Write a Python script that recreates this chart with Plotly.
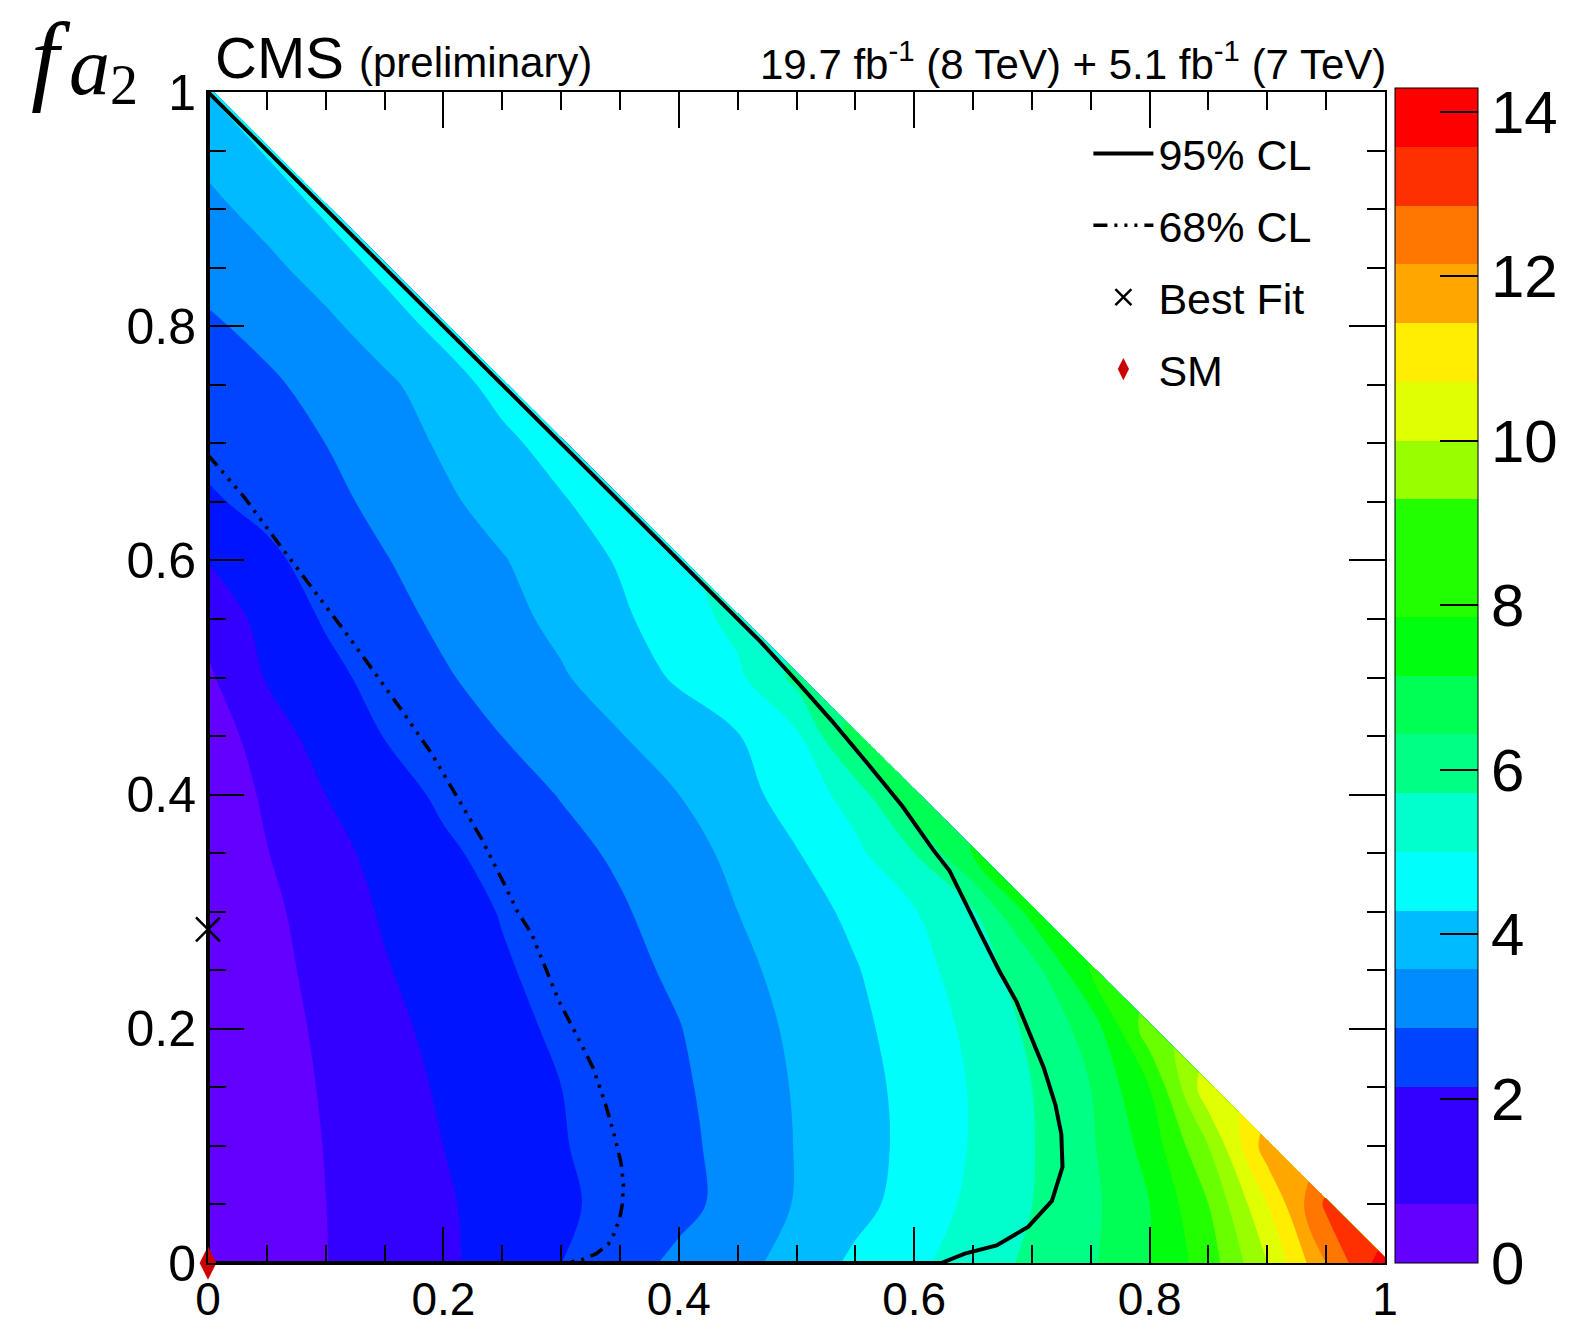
import plotly.graph_objects as go

# ---------------- data ----------------
# grid nodes (fa3 on x, fa2 on y); only x + y <= 1 is physical
x_nodes = [0.0, 0.05, 0.1, 0.15, 0.2, 0.25, 0.3, 0.35, 0.4, 0.45, 0.5,
           0.55, 0.6, 0.65, 0.7, 0.75, 0.8, 0.85, 0.9, 0.95, 1.0]
y_nodes = [0.0, 0.05, 0.1, 0.15, 0.2, 0.25, 0.3, 0.35, 0.4, 0.45, 0.5,
           0.55, 0.6, 0.65, 0.7, 0.75, 0.8, 0.85, 0.9, 0.95, 1.0]

# -2 Delta lnL estimated at each node, one list per row of y (bottom -> top)
row_00 = [0.35, 0.525, 0.70, 1.00, 1.31, 1.70, 2.14, 2.59, 3.00, 3.36, 3.84, 4.43, 4.85, 5.35, 5.86, 6.33, 7.14, 8.21, 10.0, 12.14, 14.0]
row_05 = [0.25, 0.48, 0.71, 1.02, 1.35, 1.68, 2.03, 2.35, 2.67, 3.08, 3.62, 4.06, 4.58, 5.16, 5.71, 6.26, 7.14, 8.57, 10.71, 13.0]
row_10 = [0.15, 0.44, 0.73, 1.08, 1.43, 1.76, 2.10, 2.40, 2.70, 3.09, 3.60, 4.01, 4.48, 5.06, 5.68, 6.33, 7.43, 9.29, 11.8]
row_15 = [0.08, 0.43, 0.77, 1.15, 1.51, 1.82, 2.14, 2.45, 2.75, 3.16, 3.63, 4.04, 4.50, 5.06, 5.71, 6.43, 7.86, 10.5]
row_20 = [0.03, 0.43, 0.84, 1.25, 1.61, 1.94, 2.26, 2.54, 2.83, 3.26, 3.70, 4.12, 4.60, 5.16, 5.86, 6.71, 9.0]
row_25 = [0.005, 0.48, 0.94, 1.38, 1.73, 2.07, 2.37, 2.66, 2.98, 3.40, 3.82, 4.24, 4.74, 5.36, 6.11, 7.9]
row_30 = [0.0, 0.55, 1.05, 1.50, 1.84, 2.18, 2.48, 2.78, 3.16, 3.57, 3.99, 4.44, 4.95, 5.64, 7.4]
row_35 = [0.02, 0.69, 1.20, 1.64, 2.03, 2.35, 2.65, 2.96, 3.32, 3.73, 4.25, 4.83, 5.71, 7.2]
row_40 = [0.08, 0.85, 1.43, 1.86, 2.26, 2.57, 2.89, 3.23, 3.57, 4.05, 4.58, 5.30, 7.0]
row_45 = [0.25, 1.11, 1.70, 2.16, 2.51, 2.86, 3.20, 3.54, 3.89, 4.25, 4.87, 6.8]
row_50 = [0.60, 1.48, 1.95, 2.38, 2.78, 3.14, 3.50, 3.93, 4.38, 4.86, 5.9]
row_55 = [0.90, 1.69, 2.21, 2.61, 3.00, 3.36, 3.74, 4.16, 4.67, 5.2]
row_60 = [1.45, 1.99, 2.43, 2.82, 3.18, 3.53, 3.92, 4.35, 4.9]
row_65 = [2.05, 2.34, 2.67, 3.04, 3.45, 3.83, 4.21, 4.7]
row_70 = [2.33, 2.60, 2.86, 3.25, 3.66, 4.11, 4.6]
row_75 = [2.55, 2.76, 3.05, 3.43, 3.94, 4.55]
row_80 = [2.77, 3.02, 3.41, 3.93, 4.5]
row_85 = [3.05, 3.40, 3.88, 4.45]
row_90 = [3.38, 3.83, 4.4]
row_95 = [3.78, 4.35]
row_100 = [4.3]

z_rows = [row_00, row_05, row_10, row_15, row_20, row_25, row_30, row_35,
          row_40, row_45, row_50, row_55, row_60, row_65, row_70, row_75,
          row_80, row_85, row_90, row_95, row_100]

# 95% CL contour (solid) and 68% CL contour (dash-dot)
cl95_x = [0.0, 0.47, 0.50, 0.53, 0.56, 0.59, 0.616, 0.63, 0.657, 0.672, 0.687, 0.71,
          0.72, 0.725, 0.726, 0.717, 0.697, 0.67, 0.643, 0.623, 0.0, 0.0]
cl95_y = [1.0, 0.53, 0.497, 0.463, 0.427, 0.39, 0.353, 0.335, 0.28, 0.25, 0.223, 0.167,
          0.135, 0.11, 0.082, 0.053, 0.031, 0.015, 0.008, 0.0, 0.0, 1.0]
cl68_x = [0.0, 0.03, 0.061, 0.088, 0.115, 0.141, 0.166, 0.19, 0.211, 0.232, 0.25,
          0.263, 0.275, 0.298, 0.313, 0.327, 0.337, 0.345, 0.351, 0.353, 0.352,
          0.35, 0.345, 0.34, 0.33, 0.318, 0.305]
cl68_y = [0.69, 0.655, 0.613, 0.577, 0.541, 0.505, 0.47, 0.435, 0.399, 0.363, 0.327,
          0.30, 0.281, 0.224, 0.195, 0.167, 0.138, 0.11, 0.085, 0.067, 0.05,
          0.039, 0.025, 0.016, 0.008, 0.003, 0.0]

best_fit_x = [0.0]
best_fit_y = [0.285]
sm_x = [0.0]
sm_y = [0.0]

# colour bands (ROOT rainbow palette, 20 contour levels)
band_colors = ["#6300FF", "#3300FF", "#0014FF", "#0044FF", "#008BFF", "#00BBFF",
               "#00FFFC", "#00FFCC", "#00FF85", "#00FF55", "#00FF0E", "#22FF00",
               "#69FF00", "#99FF00", "#E0FF00", "#FFEE00", "#FFA700", "#FF7700",
               "#FF3000", "#FF0000"]
z_max = 14.2857
cbar_ticks = [0, 2, 4, 6, 8, 10, 12, 14]
axis_ticks = [0, 0.2, 0.4, 0.6, 0.8, 1]

# ---------------- build figure ----------------
n_x = len(x_nodes)
z = [r + [None] * (n_x - len(r)) for r in z_rows]

n_b = len(band_colors)
dz = z_max / n_b
cs = []
for i, c in enumerate(band_colors[:-1]):
    lo = i / (n_b - 1)
    hi = (i + 1) / (n_b - 1) if i < n_b - 2 else 0.995
    cs += [[lo, c], [hi, c]]
cs += [[0.995, band_colors[-1]], [1.0, band_colors[-1]]]

FONT = "Liberation Sans, Arial, sans-serif"
SERIF = "Liberation Serif, serif"

fig = go.Figure()
fig.add_trace(go.Contour(
    x=x_nodes, y=y_nodes, z=z, zmin=0, zmax=z_max,
    autocontour=False,
    contours=dict(start=dz, end=(n_b - 1) * dz, size=dz, coloring="fill", showlines=False),
    line=dict(width=0), colorscale=cs, connectgaps=False, showlegend=False,
    hoverinfo="skip",
    colorbar=dict(
        x=1.0085, xanchor="left", xpad=0, thickness=83, thicknessmode="pixels",
        y=0, yanchor="bottom", ypad=0, len=1175, lenmode="pixels",
        tickvals=cbar_ticks, ticks="inside", ticklen=38, tickwidth=2, tickcolor="black",
        outlinewidth=1, outlinecolor="black",
        tickfont=dict(family=FONT, size=60, color="black"),
    ),
))

fig.add_trace(go.Scatter(x=cl95_x, y=cl95_y, mode="lines", name="95% CL",
                         line=dict(color="black", width=4), legendgroup="a"))
fig.add_trace(go.Scatter(x=cl68_x, y=cl68_y, mode="lines", name="68% CL",
                         line=dict(color="black", width=3.5,
                                   dash="14px,7px,3px,7px,3px,7px,3px,7px"),
                         legendgroup="b"))
fig.add_trace(go.Scatter(x=best_fit_x, y=best_fit_y, mode="markers", name="Best Fit",
                         marker=dict(symbol="x-thin", size=24, color="black",
                                     line=dict(color="black", width=2.5)),
                         cliponaxis=False, legendgroup="c"))
fig.add_trace(go.Scatter(x=sm_x, y=sm_y, mode="markers", name="SM",
                         marker=dict(symbol="diamond-tall", size=24, color="#CC0000"),
                         cliponaxis=False, legendgroup="d"))

axis_common = dict(
    range=[0, 1], tickvals=axis_ticks, ticks="inside", ticklen=36, tickwidth=1.5,
    tickcolor="black", showline=True, linecolor="black", linewidth=2,
    mirror="allticks", showgrid=False, zeroline=False,
    minor=dict(dtick=0.05, tick0=0, ticks="inside", ticklen=18, tickwidth=1.5,
               tickcolor="black", showgrid=False),
)

fig.update_layout(
    width=1572, height=1326,
    margin=dict(l=208, r=187, t=92, b=63, autoexpand=False),
    paper_bgcolor="white", plot_bgcolor="white",
    font=dict(family=FONT, size=43, color="black"),
    xaxis=dict(axis_common, ticklabelstandoff=-5,
               tickfont=dict(family=FONT, size=46, color="black")),
    yaxis=dict(axis_common, tickfont=dict(family=FONT, size=50, color="black")),
    legend=dict(x=0.748, y=0.977, xanchor="left", yanchor="top",
                bgcolor="rgba(0,0,0,0)", font=dict(family=FONT, size=43, color="black"),
                itemwidth=60, tracegroupgap=13),
    annotations=[
        dict(text="CMS", x=0.004, y=1, xref="paper", yref="paper", xanchor="left",
             yanchor="bottom", showarrow=False, yshift=0,
             font=dict(family=FONT, size=58, color="black")),
        dict(text="(preliminary)", x=0.1266, y=1, xref="paper", yref="paper",
             xanchor="left", yanchor="bottom", showarrow=False, yshift=4,
             font=dict(family=FONT, size=42, color="black")),
        dict(text="19.7 fb<sup>-1</sup> (8 TeV) + 5.1 fb<sup>-1</sup> (7 TeV)",
             x=1.0025, y=1, xref="paper", yref="paper", xanchor="right",
             yanchor="bottom", showarrow=False, yshift=2,
             font=dict(family=FONT, size=42, color="black")),
        dict(text="<i>f</i>", x=-0.152, y=1, xref="paper", yref="paper",
             xanchor="left", yanchor="bottom", showarrow=False, yshift=-24,
             font=dict(family=SERIF, size=100, color="black")),
        dict(text="<i>a</i>", x=-0.12, y=1, xref="paper", yref="paper",
             xanchor="left", yanchor="bottom", showarrow=False, yshift=-22,
             font=dict(family=SERIF, size=82, color="black")),
        dict(text="2", x=-0.085, y=1, xref="paper", yref="paper",
             xanchor="left", yanchor="bottom", showarrow=False, yshift=-26,
             font=dict(family=SERIF, size=56, color="black")),
    ],
)

fig.write_html("out.html")
